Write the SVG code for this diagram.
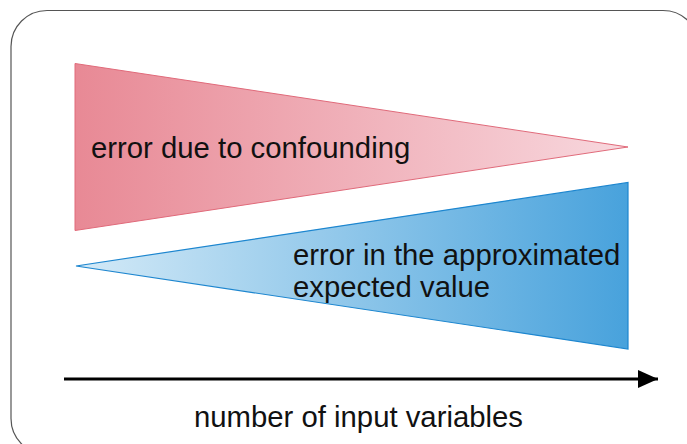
<svg xmlns="http://www.w3.org/2000/svg" width="687" height="444" viewBox="0 0 687 444">
  <defs>
    <linearGradient id="redFade" x1="75" y1="0" x2="628" y2="0" gradientUnits="userSpaceOnUse">
      <stop offset="0" stop-color="#e88995"/>
      <stop offset="1" stop-color="#f8d8de"/>
    </linearGradient>
    <linearGradient id="blueFade" x1="76" y1="0" x2="628" y2="0" gradientUnits="userSpaceOnUse">
      <stop offset="0" stop-color="#d4eaf7"/>
      <stop offset="1" stop-color="#48a2dc"/>
    </linearGradient>
    <marker id="arrowHead" viewBox="0 0 20 18" refX="20" refY="9" markerWidth="20" markerHeight="18" markerUnits="userSpaceOnUse" orient="auto">
      <path d="M0,0 L20,9 L0,18 Z" fill="#000"/>
    </marker>
  </defs>
  <style>
    .label { font-family: "Liberation Sans", Arial, sans-serif; font-size: 29.3px; fill: #111; }
  </style>

  <!-- outer frame -->
  <rect x="11" y="10.5" width="688" height="444" rx="36" ry="36" fill="#fff" stroke="#555" stroke-width="1.2"/>

  <g id="confounding">
    <polygon points="75,63.5 628,147 75,230.5" fill="url(#redFade)" stroke="#e06a7a" stroke-width="1"/>
    <text class="label" x="91" y="158">error due to confounding</text>
  </g>

  <g id="approximation">
    <polygon points="76,266 628,182.5 628,349" fill="url(#blueFade)" stroke="#1d86cf" stroke-width="1.2"/>
    <text class="label" x="293" y="265">error in the approximated</text>
    <text class="label" x="293" y="297">expected value</text>
  </g>

  <g id="connectors">
    <line x1="64" y1="379" x2="658" y2="379" stroke="#000" stroke-width="3" marker-end="url(#arrowHead)"/>
  </g>

  <g id="axis-label">
    <text class="label" x="194" y="427">number of input variables</text>
  </g>
</svg>
